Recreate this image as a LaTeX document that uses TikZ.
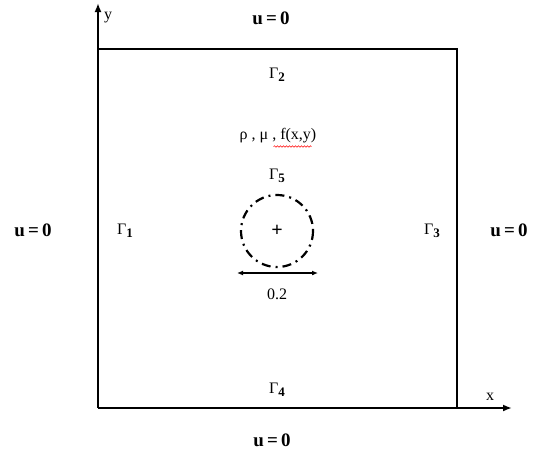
\documentclass[tikz,border=0pt]{standalone}
\usepackage{fontspec}
\setmainfont{Liberation Serif}
\usetikzlibrary{arrows.meta,decorations.pathmorphing}
\begin{document}
\begin{tikzpicture}[x=1pt,y=-1pt,
  lbl/.style={inner sep=0pt,font=\fontsize{16}{18}\selectfont},
  bc/.style={inner sep=0pt,font=\fontsize{19}{21}\selectfont\bfseries},
  axis/.style={line width=2.6pt,-{Latex[length=9pt,width=7pt]}},
  wall/.style={line width=2.6pt}]
\useasboundingbox (0,0) rectangle (535,455);
% domain
\coordinate (A) at (98,408);
\coordinate (B) at (457,408);
\coordinate (C) at (457,49);
\coordinate (D) at (98,49);
\coordinate (xe) at (512,408);
\coordinate (ye) at (98,3);
\draw[wall] (D) -- (C) -- (B);
\draw[axis] (A) -- (xe);
\draw[axis] (A) -- (ye);
\node[lbl] (xl) at (490,397) {x};
\node[lbl] (yl) at (108,18) {y};
% boundary conditions
\node[bc] (ut) at (271,18) {u\,=\,0};
\node[bc] (ub) at (272,440) {u\,=\,0};
\node[bc] (ul) at (33,230) {u\,=\,0};
\node[bc] (ur) at (509,230) {u\,=\,0};
% boundary labels
\newcommand{\gsub}[1]{Γ\raisebox{-0.35ex}{\fontsize{13}{13}\selectfont\bfseries #1}}
\node[lbl] (g1) at (125,231) {\gsub{1}};
\node[lbl] (g2) at (277,75) {\gsub{2}};
\node[lbl] (g3) at (432,231) {\gsub{3}};
\node[lbl] (g4) at (277,390) {\gsub{4}};
\node[lbl] (g5) at (277,176) {\gsub{5}};
% properties
\node[lbl] (pr) at (278,136) {ρ , μ , f(x,y)};
\draw[red,line width=0.5pt,decorate,decoration={snake,amplitude=0.8pt,segment length=3pt}]
  ([xshift=34pt,yshift=-3pt]pr.south west) -- ([xshift=-5pt,yshift=-3pt]pr.south east);
% obstacle
\coordinate (O) at (277,231);
\draw[line width=2.2pt,dash pattern=on 9pt off 5pt on 2pt off 5pt] (O) circle[radius=36];
\node[inner sep=0pt,font=\fontsize{20}{20}\selectfont\bfseries] (plus) at (O) {+};
\coordinate (d1) at (237,273);
\coordinate (d2) at (318,273);
\draw[line width=1.5pt,{Latex[length=6pt,width=5pt]}-{Latex[length=6pt,width=5pt]}] (d1) -- (d2);
\node[lbl] (dim) at (277,294) {0.2};
\end{tikzpicture}
\end{document}
